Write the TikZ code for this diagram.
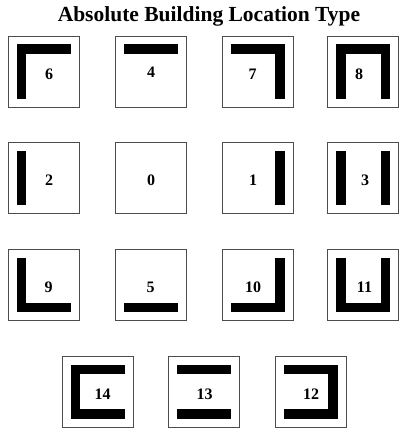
\documentclass[tikz,border=0pt]{standalone}
\usepackage{fontspec}
\setmainfont{Liberation Serif}
\usetikzlibrary{positioning}

% 方框里的粗条：参数是方框节点名
\newcommand{\barN}[1]{\fill ([shift={(-27,-27)}]#1.center) rectangle ([shift={(27,-17.5)}]#1.center);}
\newcommand{\barS}[1]{\fill ([shift={(-27,17.5)}]#1.center) rectangle ([shift={(27,27)}]#1.center);}
\newcommand{\barW}[1]{\fill ([shift={(-27,-27)}]#1.center) rectangle ([shift={(-17.5,27)}]#1.center);}
\newcommand{\barE}[1]{\fill ([shift={(17.5,-27)}]#1.center) rectangle ([shift={(27,27)}]#1.center);}

\begin{document}
\begin{tikzpicture}[x=1pt, y=-1pt,
  locbox/.style={draw=black!70, line width=0.9pt, fill=white, minimum size=71pt, inner sep=0pt},
  loclabel/.style={inner sep=0pt, font=\fontsize{16}{19}\selectfont\bfseries}]

  %% ════ 标题 ════
  \node[anchor=base, font=\fontsize{21.5}{25}\selectfont\bfseries] (title) at (209,22) {Absolute Building Location Type};

  %% ════ 方框（行距 ≈106）════
  \node[locbox] (b6)  at (43.5,71.5)  {};
  \node[locbox] (b4)  at (150.5,71.5) {};
  \node[locbox] (b7)  at (257.5,71.5) {};
  \node[locbox] (b8)  at (363,71.5)   {};
  \node[locbox] (b2)  at (43.5,178)   {};
  \node[locbox] (b0)  at (150.5,178)  {};
  \node[locbox] (b1)  at (257.5,178)  {};
  \node[locbox] (b3)  at (363,178)    {};
  \node[locbox] (b9)  at (43.5,285)   {};
  \node[locbox] (b5)  at (150.5,285)  {};
  \node[locbox] (b10) at (257.5,285)  {};
  \node[locbox] (b11) at (363,285)    {};
  \node[locbox] (b14) at (97.5,391.5) {};
  \node[locbox] (b13) at (203.5,391.5){};
  \node[locbox] (b12) at (310.5,391.5){};

  %% ════ 粗条 ════
  \barN{b6} \barW{b6}
  \barN{b4}
  \barN{b7} \barE{b7}
  \barN{b8} \barW{b8} \barE{b8}
  \barW{b2}
  \barE{b1}
  \barW{b3} \barE{b3}
  \barS{b9} \barW{b9}
  \barS{b5}
  \barS{b10} \barE{b10}
  \barS{b11} \barW{b11} \barE{b11}
  \barN{b14} \barS{b14} \barW{b14}
  \barN{b13} \barS{b13}
  \barN{b12} \barS{b12} \barE{b12}

  %% ════ 编号 ════
  \node[loclabel] (l6)  at (49,74)      {6};
  \node[loclabel] (l4)  at (151,72)     {4};
  \node[loclabel] (l7)  at (252.5,74)   {7};
  \node[loclabel] (l8)  at (359,74)     {8};
  \node[loclabel] (l2)  at (49,180.5)   {2};
  \node[loclabel] (l0)  at (151,180.5)  {0};
  \node[loclabel] (l1)  at (253,180.5)  {1};
  \node[loclabel] (l3)  at (365,180.5)  {3};
  \node[loclabel] (l9)  at (48.5,287.5) {9};
  \node[loclabel] (l5)  at (150.5,287.5){5};
  \node[loclabel] (l10) at (253,287.5)  {10};
  \node[loclabel] (l11) at (364.5,287.5){11};
  \node[loclabel] (l14) at (102.5,394)  {14};
  \node[loclabel] (l13) at (204.5,394)  {13};
  \node[loclabel] (l12) at (311,394)    {12};

  % 钉死画布
  \pgfresetboundingbox
  \path[use as bounding box] (0,0) rectangle (399,428);
\end{tikzpicture}
\end{document}
